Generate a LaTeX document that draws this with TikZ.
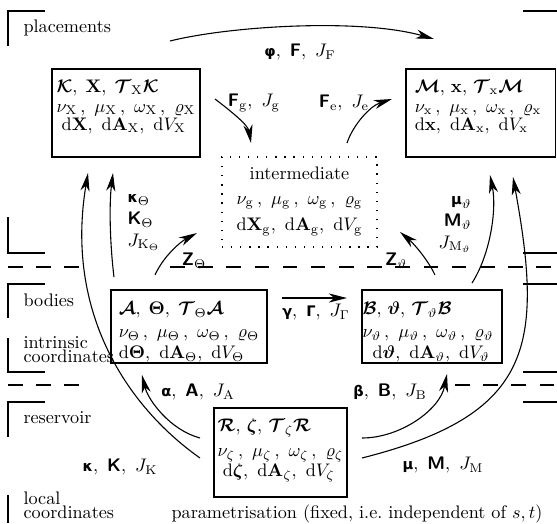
\documentclass[tikz,border=0pt]{standalone}
\usepackage{amsmath}
\usepackage[no-math]{fontspec}
\newfontfamily\dvsans{DejaVu Sans}[Scale=0.8]
\usetikzlibrary{arrows.meta}
\newcommand{\bsf}[1]{\text{\normalfont\sffamily\bfseries #1}}
\newcommand{\bgr}[1]{\text{\normalfont\dvsans\bfseries #1}}
\newcommand{\bcal}[1]{\boldsymbol{\mathcal{#1}}}
\newcommand{\rmd}{\mathrm{d}}
\begin{document}
\begin{tikzpicture}[x=0.55pt,y=-0.55pt,line width=0.6pt,
  >={Stealth[length=10pt,width=5pt,inset=3pt]},
  boxst/.style={draw,line width=0.6pt,inner sep=0pt},
  ibox/.style={draw,line width=0.6pt,inner sep=0pt,dash pattern=on 0.7pt off 4.3pt},
  boxtxt/.style={inner sep=0pt,align=left,anchor=north},
  lbl/.style={inner sep=1pt},
  sect/.style={inner sep=0pt,align=left,anchor=base west},
  brk/.style={line width=0.6pt},
  dsh/.style={line width=0.6pt,dash pattern=on 8pt off 7.5pt},
  arr/.style={->,line width=0.6pt}]
\useasboundingbox (0,0) rectangle (557,523);

% section brackets and separators
\draw[brk] (8,46) -- (8,11) -- (45,11);
\draw[brk] (8,217) -- (8,253) -- (45,253);
\draw[dsh] (8,267) -- (82,267);
\draw[dsh] (170,267) -- (557,267);
\draw[brk] (8,318) -- (8,284) -- (45,284);
\draw[brk] (8,338) -- (8,372) -- (45,372);
\draw[dsh] (8,385) -- (82,385);
\draw[dsh] (455,385) -- (557,385);
\draw[brk] (8,437) -- (8,402) -- (45,402);
\draw[brk] (8,495) -- (8,523);
\draw[brk] (523,11) -- (557,11);
\draw[brk] (523,253) -- (557,253);
\draw[brk] (523,284) -- (557,284);
\draw[brk] (523,372) -- (557,372);
\draw[brk] (523,402) -- (557,402);

\node[sect] (s1) at (23,32) {placements};
\node[sect] (s2) at (23,306) {bodies};
\node[sect] (s3) at (23,362) {intrinsic\\[-4.8pt]coordinates};
\node[sect] (s4) at (23,423) {reservoir};
\node[sect] (s5) at (23,518) {local\\[-4.8pt]coordinates};
\node[anchor=base,inner sep=0pt] (par) at (357,518) {parametrisation (fixed, i.e.\ independent of $s,t$)};

% boxes
\node[boxst,minimum width=81.4pt,minimum height=48.4pt] (K) at (126,113) {};
\node[boxtxt] (Kt) at (126,79) {$\bcal{K},\;\mathbf{X},\;\bcal{T}_{\mathrm{X}}\bcal{K}$\\[-1pt]
$\nu_{\mathrm X}\,,\ \mu_{\mathrm X}\,,\ \omega_{\mathrm X}\,,\ \varrho_{\mathrm X}$\\[-2pt]
$\;\rmd\mathbf X,\ \rmd\mathbf A_{\mathrm X},\ \rmd V_{\mathrm X}$};

\node[boxst,minimum width=82pt,minimum height=48.4pt] (M) at (480.5,113) {};
\node[boxtxt] (Mt) at (478,79) {$\bcal{M},\,\mathbf{x},\,\bcal{T}_{\mathrm{x}}\bcal{M}$\\[-1pt]
$\nu_{\mathrm x}\,,\ \mu_{\mathrm x}\,,\ \omega_{\mathrm x}\,,\ \varrho_{\mathrm x}$\\[-2pt]
$\rmd\mathbf x,\ \rmd\mathbf A_{\mathrm x},\ \rmd V_{\mathrm x}$};

\node[ibox,minimum width=85.25pt,minimum height=49.5pt] (G) at (299.5,202) {};
\node[boxtxt,align=center] (Gt) at (299.5,166) {intermediate\\[1.7pt]
$\nu_{\mathrm g}\,,\ \mu_{\mathrm g}\,,\ \omega_{\mathrm g}\,,\ \varrho_{\mathrm g}$\\[2.8pt]
$\rmd\mathbf X_{\mathrm g},\ \rmd\mathbf A_{\mathrm g},\ \rmd V_{\mathrm g}$};

\node[boxst,minimum width=85.8pt,minimum height=40.15pt] (A) at (189,326.5) {};
\node[boxtxt] (At) at (189,301.5) {$\bcal{A},\;\boldsymbol{\Theta},\;\bcal{T}_{\Theta}\bcal{A}$\\[0.6pt]
$\nu_{\Theta}\,,\ \mu_{\Theta}\,,\ \omega_{\Theta}\,,\ \varrho_{\Theta}$\\[-0.5pt]
$\rmd\boldsymbol{\Theta},\ \rmd\mathbf A_{\Theta},\ \rmd V_{\Theta}$};

\node[boxst,minimum width=77pt,minimum height=40.15pt] (B) at (432,326.5) {};
\node[boxtxt] (Bt) at (428,301.5) {$\bcal{B},\,\boldsymbol{\vartheta},\,\bcal{T}_{\vartheta}\bcal{B}$\\[0.6pt]
$\nu_{\vartheta}\,,\ \mu_{\vartheta}\,,\ \omega_{\vartheta}\,,\ \varrho_{\vartheta}$\\[-0.5pt]
$\;\;\rmd\boldsymbol{\vartheta},\ \rmd\mathbf A_{\vartheta},\ \rmd V_{\vartheta}$};

\node[boxst,minimum width=73.15pt,minimum height=48.95pt] (R) at (280.5,452.5) {};
\node[boxtxt] (Rt) at (280.5,418.5) {$\bcal{R},\,\boldsymbol{\zeta},\,\bcal{T}_{\zeta}\bcal{R}$\\[1.7pt]
$\nu_{\zeta}\,,\ \mu_{\zeta}\,,\ \omega_{\zeta}\,,\ \varrho_{\zeta}$\\[-1pt]
$\;\rmd\boldsymbol{\zeta},\ \rmd\mathbf A_{\zeta},\ \rmd V_{\zeta}$};

% labels
\node[lbl] (phiL) at (300,52) {$\bgr{φ},\ \bsf{F},\ J_{\mathrm F}$};
\node[lbl] (FgL) at (254,103) {$\bsf{F}_{\mathrm g},\ J_{\mathrm g}$};
\node[lbl] (FeL) at (344,103) {$\bsf{F}_{\mathrm e},\ J_{\mathrm e}$};
\node[lbl,inner sep=0pt,align=left,anchor=north west] (kThL) at (127,194) {$\bgr{κ}_{\Theta}$\\$\bsf{K}_{\Theta}$\\$J_{\mathrm K_{\Theta}}$};
\node[lbl,inner sep=0pt,align=right,anchor=north east] (mThL) at (472,196) {$\bgr{μ}_{\vartheta}$\\$\bsf{M}_{\vartheta}$\\$J_{\mathrm M_{\vartheta}}$};
\node[lbl] (ZThL) at (194,261) {$\bsf{Z}_{\Theta}$};
\node[lbl] (ZvtL) at (396,261) {$\bsf{Z}_{\vartheta}$};
\node[lbl] (gamL) at (316,312) {$\bgr{γ},\ \bgr{Γ},\ J_{\Gamma}$};
\node[lbl] (alpL) at (198,392) {$\bgr{α},\ \bsf{A},\ J_{\mathrm A}$};
\node[lbl] (betL) at (390,392) {$\bgr{β},\ \bsf{B},\ J_{\mathrm B}$};
\node[lbl] (kapL) at (120,467) {$\bgr{κ},\ \bsf{K},\ J_{\mathrm K}$};
\node[lbl] (muL) at (443,465) {$\bgr{μ},\ \bsf{M},\ J_{\mathrm M}$};

% arrow end points
\coordinate (phiS) at (170,41);   \coordinate (phiE) at (434,39);
\coordinate (FgS) at (215,99);    \coordinate (FgE) at (251,143);
\coordinate (FeS) at (347,143);   \coordinate (FeE) at (392,99);
\coordinate (ZThS) at (155,275);  \coordinate (ZThE) at (197,233);
\coordinate (ZvtS) at (435,275);  \coordinate (ZvtE) at (400,232);
\coordinate (gamS) at (282,298);  \coordinate (gamE) at (347,298);
\coordinate (kThS) at (114,277);  \coordinate (kThE) at (113,173);
\coordinate (mThS) at (472,283);  \coordinate (mThE) at (490,175);
\coordinate (alpS) at (200,438);  \coordinate (alpE) at (142,375);
\coordinate (betS) at (362,438);  \coordinate (betE) at (447,374);
\coordinate (kapS) at (200,458);  \coordinate (kapE) at (88,173);
\coordinate (muS) at (362,458);   \coordinate (muE) at (513,177);

\draw[arr] (phiS) .. controls (230,26) and (360,18) .. (phiE);
\draw[arr] (FgS) .. controls (232,112) and (248,125) .. (FgE);
\draw[arr] (FeS) .. controls (353,125) and (370,106) .. (FeE);
\draw[arr] (ZThS) .. controls (163,257) and (180,242) .. (ZThE);
\draw[arr] (ZvtS) .. controls (427,258) and (412,242) .. (ZvtE);
\draw[arr] (gamS) -- (gamE);
\draw[arr] (kThS) .. controls (110,245) and (109,205) .. (kThE);
\draw[arr] (mThS) .. controls (490,255) and (497,210) .. (mThE);
\draw[arr] (alpS) .. controls (170,430) and (148,400) .. (alpE);
\draw[arr] (betS) .. controls (400,438) and (440,410) .. (betE);
\draw[arr] (kapS) .. controls (125,405) and (65,310) .. (kapE);
\draw[arr] (muS) .. controls (532,415) and (544,347) .. (muE);
\end{tikzpicture}
\end{document}
